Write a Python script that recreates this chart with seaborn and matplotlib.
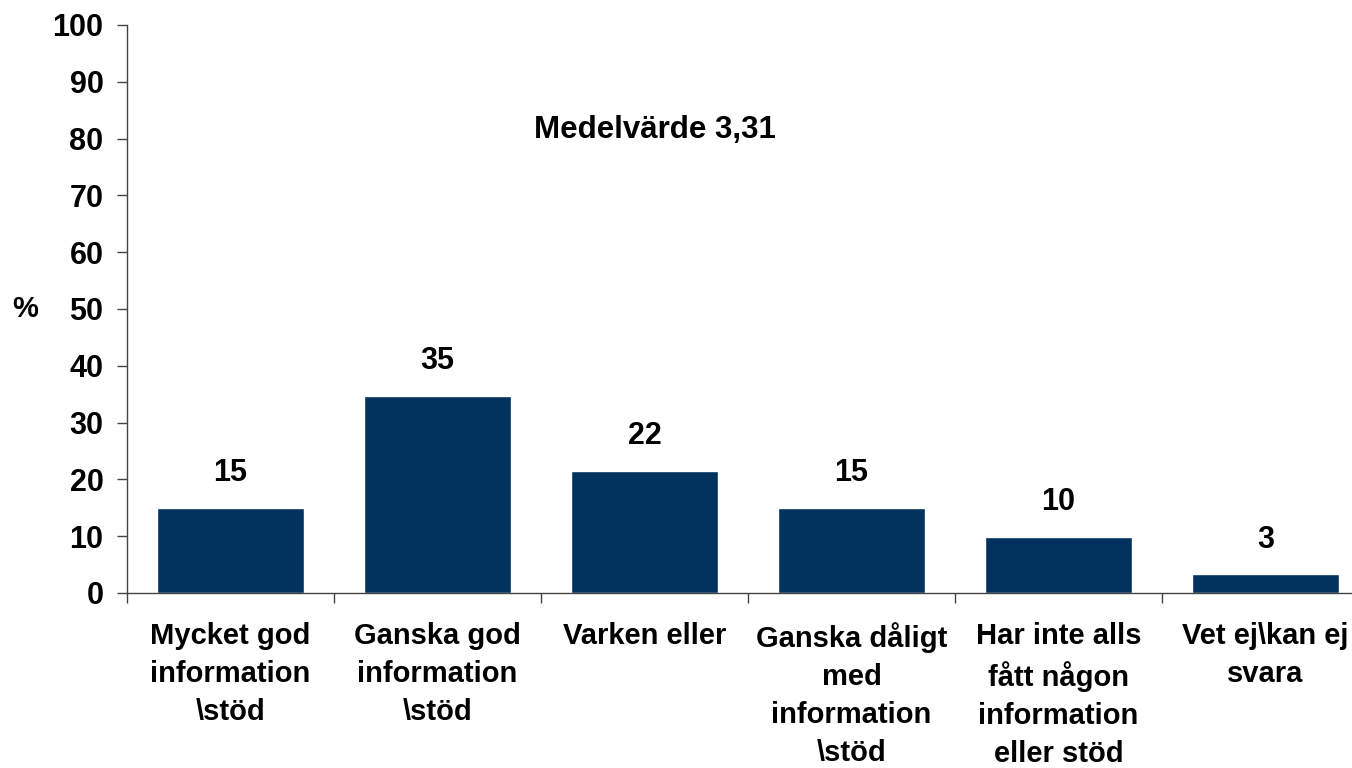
import matplotlib
matplotlib.use("Agg")
import matplotlib.pyplot as plt
import numpy as np
import pandas as pd
import seaborn as sns

categories = [
    "Mycket god\ninformation\n\\stöd",
    "Ganska god\ninformation\n\\stöd",
    "Varken eller",
    "Ganska dåligt\nmed\ninformation\n\\stöd",
    "Har inte alls\nfått någon\ninformation\neller stöd",
    "Vet ej\\kan ej\nsvara",
]
values = [15.0, 34.7, 21.5, 15.0, 9.9, 3.3]
value_labels = ["15", "35", "22", "15", "10", "3"]
y_ticks = list(range(0, 101, 10))
mean_text = "Medelvärde 3,31"

sns.set_theme(style="white")
plt.rcParams["font.family"] = ["Liberation Sans", "DejaVu Sans"]
plt.rcParams["font.weight"] = "bold"
plt.rcParams["text.color"] = "black"
plt.rcParams["xtick.color"] = "black"
plt.rcParams["ytick.color"] = "black"
plt.rcParams["axes.labelcolor"] = "black"

df = pd.DataFrame({"kategori": categories, "andel": values})

fig = plt.figure(figsize=(13.52, 7.68), dpi=100)
ax = fig.add_axes([127 / 1352, 175 / 768, 1242 / 1352, 568 / 768])

sns.barplot(data=df, x="kategori", y="andel", color="#02335f", saturation=1,
            width=0.71, ax=ax)

ax.bar_label(ax.containers[0], labels=value_labels, padding=14,
             fontsize=22, fontweight="bold")

ax.set_ylim(0, 100)
ax.set_xlim(-0.5, len(categories) - 0.5)
ax.set_yticks(y_ticks)
ax.set_yticklabels([str(t) for t in y_ticks], fontsize=22, fontweight="bold")
ax.tick_params(axis="y", direction="out", length=7, width=1, color="#444444",
               pad=10, left=True)

# category labels in the middle, ticks on the boundaries
ax.set_xticks(np.arange(len(categories)))
ax.set_xticklabels(categories, fontsize=21, fontweight="bold",
                   linespacing=1.45, va="top")
ax.tick_params(axis="x", which="major", length=0, pad=21)
ax.set_xticks(np.arange(len(categories) + 1) - 0.5, minor=True)
ax.tick_params(axis="x", which="minor", direction="out", length=7, width=1,
               color="#444444", bottom=True)

ax.set_xlabel("")
ax.set_ylabel("%", rotation=0, fontsize=21, fontweight="bold", va="center")
ax.yaxis.set_label_coords(-0.082, 0.5)

for side in ["top", "right"]:
    ax.spines[side].set_visible(False)
for side in ["left", "bottom"]:
    ax.spines[side].set_color("#444444")
    ax.spines[side].set_linewidth(1)

ax.text(2.05, 81.5, mean_text, ha="center", va="center", fontsize=22.5,
        fontweight="bold")

fig.savefig("out.png", dpi=100)
